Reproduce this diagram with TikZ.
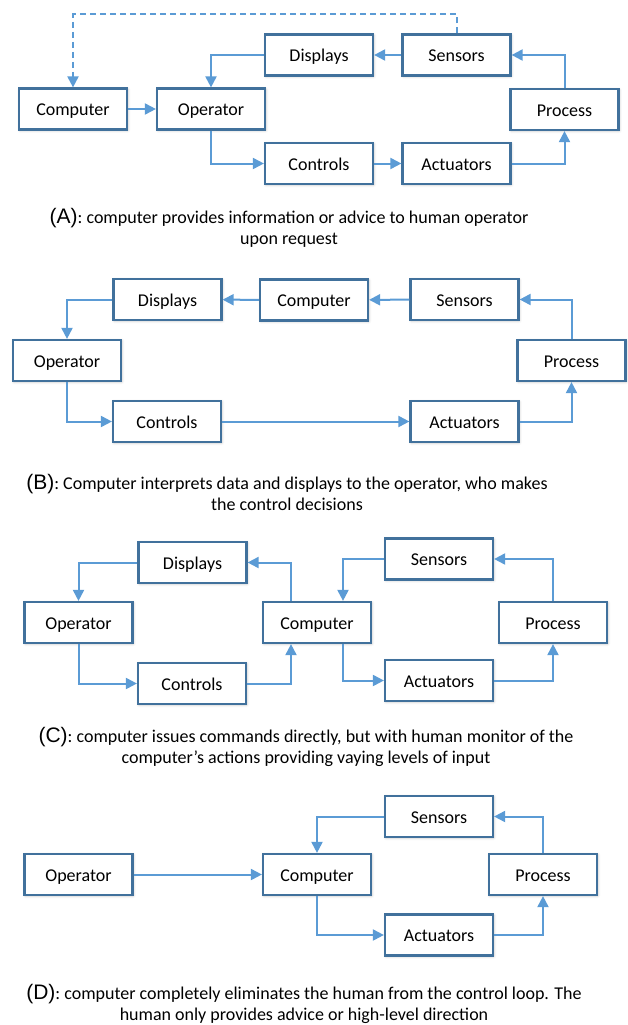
\documentclass[tikz,border=0pt]{standalone}
\usepackage{fontspec}
\setmainfont{Carlito}
\newfontfamily\tagfont{Liberation Sans}
\usetikzlibrary{arrows.meta,shadows.blur}

\definecolor{boxblue}{RGB}{65,113,156}
\definecolor{arrowblue}{RGB}{91,155,213}

\begin{document}
\begin{tikzpicture}[x=1pt,y=-1pt,
  box/.style={draw=boxblue, line width=2.2pt, fill=white,
    minimum width=108pt, minimum height=41pt, inner sep=0pt,
    text height=13pt, text depth=0pt,
    font=\fontsize{18}{20}\selectfont,
    blur shadow={shadow xshift=0.8pt, shadow yshift=-0.8pt,
      shadow blur radius=2.5pt, shadow opacity=30}},
  flow/.style={draw=arrowblue, line width=2pt,
    -{Triangle[length=11pt,width=11pt]}},
  caption/.style={align=center, font=\fontsize{18}{21}\selectfont}
]
\useasboundingbox (0,0) rectangle (628,1025);

% ---------- (A) ----------
\node[box] (cA)  at (73,109)    {Computer};
\node[box] (oA)  at (211,109)   {Operator};
\node[box] (dA)  at (319,55)    {Displays};
\node[box] (sA)  at (456.5,55)  {Sensors};
\node[box] (ctA) at (319,163.5) {Controls};
\node[box] (acA) at (456.5,163.5) {Actuators};
\node[box] (pA)  at (564.5,109.5) {Process};

\draw[flow, dash pattern=on 6pt off 4pt] (sA.north) -- ++(0,-19) -| (cA.north);
\draw[flow] (cA) -- (oA);
\draw[flow] (dA.west) -| (oA.north);
\draw[flow] (oA.south) |- (ctA.west);
\draw[flow] (ctA) -- (acA);
\draw[flow] (acA.east) -| (pA.south);
\draw[flow] (pA.north) |- (sA.east);
\draw[flow] (sA) -- (dA);

\node[caption] (capA) at (289,227.5)
  {{\tagfont\fontsize{21}{21}\selectfont(A)}: computer provides information or advice to human operator\\upon request};

% ---------- (B) ----------
\node[box] (dB)  at (167.5,299.5) {Displays};
\node[box] (cB)  at (314,300)     {Computer};
\node[box] (sB)  at (464.5,299.5) {Sensors};
\node[box] (oB)  at (67,360.5)    {Operator};
\node[box] (ctB) at (167,421.5)   {Controls};
\node[box] (acB) at (464.5,421.5) {Actuators};
\node[box] (pB)  at (571.5,360.5) {Process};

\draw[flow] (sB) -- (cB);
\draw[flow] (cB) -- (dB);
\draw[flow] (dB.west) -| (oB.north);
\draw[flow] (oB.south) |- (ctB.west);
\draw[flow] (ctB) -- (acB);
\draw[flow] (acB.east) -| (pB.south);
\draw[flow] (pB.north) |- (sB.east);

\node[caption] (capB) at (287,492.5)
  {{\tagfont\fontsize{21}{21}\selectfont(B)}: Computer interprets data and displays to the operator, who makes\\the control decisions};

% ---------- (C) ----------
\node[box] (dC)  at (192.5,562.5) {Displays};
\node[box] (oC)  at (78.5,622.5)  {Operator};
\node[box] (ctC) at (192,683.5)   {Controls};
\node[box] (cC)  at (317,622.5)   {Computer};
\node[box] (sC)  at (439,559)     {Sensors};
\node[box] (acC) at (439,680.5)   {Actuators};
\node[box] (pC)  at (553,622.5)   {Process};

\draw[flow] ([xshift=-26pt]cC.north) |- (dC.east);
\draw[flow] (dC.west) -| (oC.north);
\draw[flow] (oC.south) |- (ctC.west);
\draw[flow] (ctC.east) -| ([xshift=-26pt]cC.south);
\draw[flow] (sC.west) -| ([xshift=26pt]cC.north);
\draw[flow] ([xshift=26pt]cC.south) |- (acC.west);
\draw[flow] (acC.east) -| (pC.south);
\draw[flow] (pC.north) |- (sC.east);

\node[caption] (capC) at (306,746.5)
  {{\tagfont\fontsize{21}{21}\selectfont(C)}: computer issues commands directly, but with human monitor of the\\computer’s actions providing vaying levels of input};

% ---------- (D) ----------
\node[box] (oD)  at (78.5,874.5) {Operator};
\node[box] (cD)  at (317,874.5)  {Computer};
\node[box] (sD)  at (439,816.5)  {Sensors};
\node[box] (acD) at (439,935)    {Actuators};
\node[box] (pD)  at (543,874.5)  {Process};

\draw[flow] (oD) -- (cD);
\draw[flow] (sD.west) -| (cD.north);
\draw[flow] (cD.south) |- (acD.west);
\draw[flow] (acD.east) -| (pD.south);
\draw[flow] (pD.north) |- (sD.east);

\node[caption] (capD) at (304,1004)
  {{\tagfont\fontsize{21}{21}\selectfont(D)}: computer completely eliminates the human from the control loop. The\\human only provides advice or high-level direction};
\end{tikzpicture}
\end{document}
